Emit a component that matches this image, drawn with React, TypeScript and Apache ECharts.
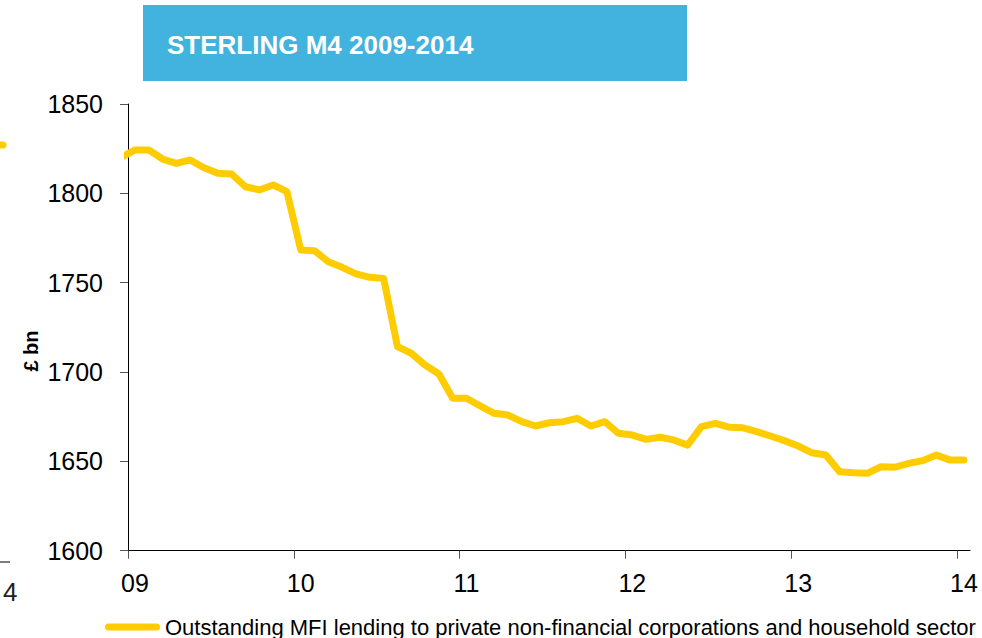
import React, { useEffect, useRef } from "react";
import * as echarts from "echarts";

// Monthly observations, Dec 2008 .. Jan 2014 (62 months)
const firstMonth = { year: 2008, month: 12 };
const lending = [
  1820.0,
  1824.3, 1824.3, 1819.2, 1816.8, 1818.7, 1814.3, 1811.2, 1810.8, 1803.7, 1801.9, 1804.7, 1800.9,
  1768.3, 1767.9, 1761.7, 1758.6, 1754.9, 1753.0, 1752.4, 1714.2, 1710.5, 1703.9, 1698.9, 1685.3,
  1685.3, 1681.0, 1676.9, 1675.9, 1672.2, 1669.8, 1671.6, 1672.2, 1674.1, 1669.8, 1672.2, 1665.7,
  1664.7, 1662.3, 1663.5, 1662.0, 1659.1, 1669.4, 1671.3, 1669.1, 1668.8, 1666.6, 1664.2, 1661.6,
  1658.6, 1654.8, 1653.6, 1644.2, 1643.6, 1643.3, 1647.0, 1646.7, 1648.9, 1650.4, 1653.5, 1650.7,
  1650.7,
];
const yearTicks = [9, 10, 11, 12, 13, 14];
const yearLabels = ["09", "10", "11", "12", "13", "14"];
const seriesName =
  "Outstanding MFI lending to private non-financial corporations and household sector";
const titleText = "STERLING M4 2009-2014";
const yAxisTitle = "£ bn";

const FONT = "'Liberation Sans', Arial, Helvetica, sans-serif";
const YELLOW = "#FFCC00";

function monthPosition(i: number): number {
  const total = firstMonth.month - 1 + i;
  const year = firstMonth.year + Math.floor(total / 12);
  const month = (total % 12) + 1;
  return year - 2000 + (month - 0.5) / 12;
}

export default function App() {
  const ref = useRef<HTMLDivElement>(null);

  useEffect(() => {
    if (!ref.current) return;
    const chart = echarts.init(ref.current, null, { renderer: "svg" });
    const data = lending.map((v, i) => [monthPosition(i), v]);
    const labelPositions = yearTicks.map((y) => y + 0.5 / 12);

    chart.setOption({
      animation: false,
      textStyle: { fontFamily: FONT },
      grid: { left: 128, top: 104, width: 842, height: 446.7 },
      xAxis: {
        type: "value",
        min: 9,
        max: 14.078,
        axisLine: { show: true, onZero: false, lineStyle: { color: "#000", width: 1 } },
        axisTick: {
          show: true,
          length: 8,
          customValues: yearTicks,
          lineStyle: { color: "#555", width: 1 },
        },
        axisLabel: {
          customValues: labelPositions,
          formatter: (v: number) => yearLabels[Math.round(v - 0.5 / 12) - 9] ?? "",
          fontSize: 25,
          color: "#000",
          margin: 20,
          fontFamily: FONT,
        },
        splitLine: { show: false },
      },
      yAxis: {
        type: "value",
        min: 1600,
        max: 1850,
        interval: 50,
        axisLine: { show: true, onZero: false, lineStyle: { color: "#000", width: 1 } },
        axisTick: { show: true, length: 8, lineStyle: { color: "#555", width: 1 } },
        axisLabel: {
          fontSize: 25,
          color: "#000",
          margin: 25,
          fontFamily: FONT,
          formatter: (v: number) => String(v),
        },
        splitLine: { show: false },
      },
      legend: {
        left: 105,
        top: 616,
        padding: 0,
        itemWidth: 55,
        itemHeight: 7,
        icon: "path://M3.5,0 H51.5 A3.5,3.5 0 0 1 51.5,7 H3.5 A3.5,3.5 0 0 1 3.5,0 Z",
        textStyle: { fontSize: 22, color: "#000", fontFamily: FONT },
        data: [seriesName],
      },
      series: [
        {
          type: "line",
          name: seriesName,
          data,
          showSymbol: false,
          clip: true,
          itemStyle: { color: YELLOW },
          lineStyle: { color: YELLOW, width: 7, cap: "round", join: "round" },
        },
      ],
      graphic: [
        {
          type: "rect",
          shape: { x: 143, y: 5, width: 544, height: 76 },
          style: { fill: "#42B3DF" },
        },
        {
          type: "text",
          x: 167,
          y: 45,
          style: {
            text: titleText,
            fill: "#fff",
            font: `bold 26px ${FONT}`,
            verticalAlign: "middle",
            align: "left",
          },
        },
        {
          type: "text",
          x: 31,
          y: 351,
          rotation: Math.PI / 2,
          style: {
            text: yAxisTitle,
            fill: "#000",
            font: `bold 20px ${FONT}`,
            verticalAlign: "middle",
            align: "center",
          },
        },
        {
          type: "line",
          shape: { x1: -8, y1: 145, x2: 3, y2: 145 },
          style: { stroke: YELLOW, lineWidth: 7, lineCap: "round" },
        },
        {
          type: "line",
          shape: { x1: 0, y1: 562, x2: 10, y2: 562 },
          style: { stroke: "#555", lineWidth: 1.5 },
        },
        {
          type: "text",
          x: 3,
          y: 592,
          style: {
            text: "4",
            fill: "#222",
            font: `26px ${FONT}`,
            verticalAlign: "middle",
            align: "left",
          },
        },
      ],
    });

    return () => chart.dispose();
  }, []);

  return (
    <div
      ref={ref}
      style={{ position: "fixed", left: 0, top: 0, width: 982, height: 638, background: "#fff" }}
    />
  );
}
